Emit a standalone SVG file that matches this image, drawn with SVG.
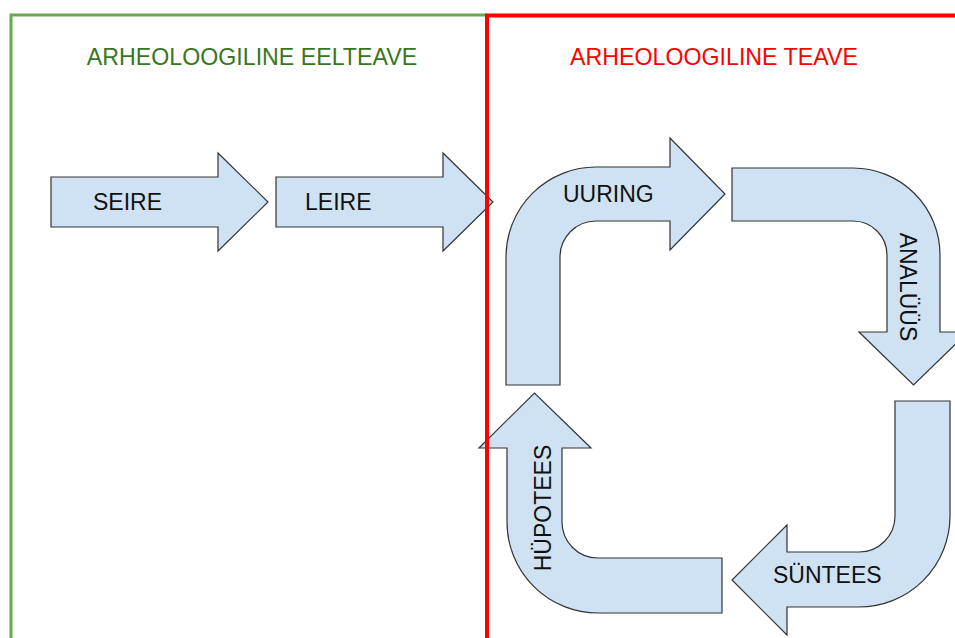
<svg xmlns="http://www.w3.org/2000/svg" width="955" height="638" viewBox="0 0 955 638">
<style>
.arrow{fill:#cfe2f3;stroke:#333;stroke-width:1.2;stroke-linejoin:miter}
.lbl{font-family:"Liberation Sans",Arial,sans-serif;font-size:23px;fill:#111}
.title{font-family:"Liberation Sans",Arial,sans-serif;font-size:23.2px;text-anchor:middle}
.frame{fill:none}
</style>
<rect width="955" height="638" fill="#fff"/>
<g id="nodes">
<g id="seire"><path class="arrow" d="M51,177 H218 V153 L268,202 L218,251 V227 H51 Z"/><text class="lbl" x="93" y="210">SEIRE</text></g>
<g id="leire"><path class="arrow" d="M276,177 H443 V153 L493,202 L443,251 V227 H276 Z"/><text class="lbl" x="305" y="210">LEIRE</text></g>
<g id="uuring"><path class="arrow" d="M506,385 V257 A90,90 0 0 1 596,167 H670 V138 L725,194 L670,250 V221 H596 A36,36 0 0 0 560,257 V385 Z"/><text class="lbl" x="563" y="202">UURING</text></g>
<g id="analyys"><path class="arrow" d="M732,168 H853 A87,87 0 0 1 940,255 V332 H968 L913.5,385 L859,332 H887 V255 A34,34 0 0 0 853,221 H732 Z"/><text class="lbl" text-anchor="middle" transform="translate(900,287) rotate(90)">ANALÜÜS</text></g>
<g id="synteees"><path class="arrow" d="M950,401 V516 A91,91 0 0 1 859,607 H787 V635 L732,580 L787,525 V552 H859 A36,36 0 0 0 895,516 V401 Z"/><text class="lbl" x="773" y="583">SÜNTEES</text></g>
<g id="hypotees"><path class="arrow" d="M722,613 H598 A91,91 0 0 1 507,522 V448 H479 L534.5,393 L591,448 H562 V522 A36,36 0 0 0 598,558 H722 Z"/><text class="lbl" text-anchor="middle" transform="translate(551,508) rotate(-90)">HÜPOTEES</text></g>
</g>
<g id="connectors"></g>
<g id="eelteave"><path class="frame" d="M11,645 V15 H487" stroke="#6aa84f" stroke-width="3"/><text class="title" x="252" y="65" fill="#38761d">ARHEOLOOGILINE EELTEAVE</text></g>
<g id="teave"><path class="frame" d="M487,645 V15.5 H960" stroke="#ff0000" stroke-width="4"/><text class="title" x="714" y="65" fill="#ff0000">ARHEOLOOGILINE TEAVE</text></g>
</svg>
